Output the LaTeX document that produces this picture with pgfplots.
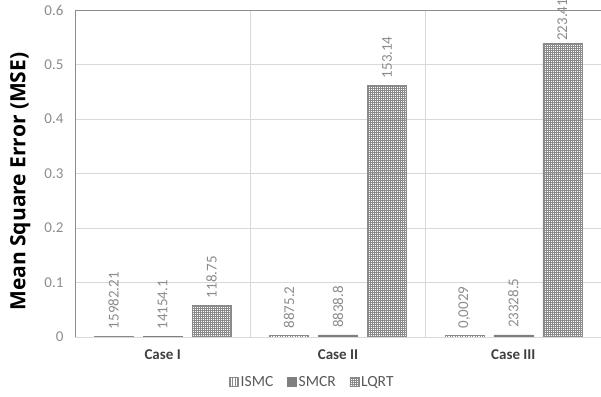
\documentclass[border=0pt]{standalone}
\usepackage{fontspec}
\setmainfont{Carlito}
\newfontfamily\opensans{Open Sans}
\usepackage{pgfplots}
\pgfplotsset{compat=1.18}
\usetikzlibrary{patterns.meta}
\definecolor{tickgray}{HTML}{8C8C8C}
\definecolor{gridgray}{HTML}{D9D9D9}
\definecolor{axgray}{HTML}{8C8C8C}
\definecolor{bargray}{HTML}{7F7F7F}
\definecolor{patgray}{HTML}{8A8A8A}
\definecolor{catgray}{HTML}{404040}
\definecolor{leggray}{HTML}{595959}
\begin{document}
\begin{tikzpicture}
\begin{axis}[
  at={(75pt,59pt)}, anchor=south west,
  scale only axis, width=526pt, height=327pt,
  ybar=10pt, bar width=39pt,
  xmin=-0.5, xmax=2.5, ymin=0, ymax=0.6,
  xtick={0,1,2}, xticklabels={Case I, Case II, Case III},
  ytick={0,0.1,0.2,0.3,0.4,0.5,0.6},
  yticklabels={0,0.1,0.2,0.3,0.4,0.5,0.6},
  major tick length=0pt,
  ymajorgrids, grid style={gridgray, line width=0.8pt},
  extra x ticks={0.5,1.5}, extra x tick labels={},
  extra x tick style={grid=major, major tick length=0pt},
  axis line style={draw=none},
  clip=false,
  yticklabel style={font=\fontsize{15}{18}\selectfont, text=tickgray, xshift=-8pt},
  xticklabel style={font=\fontsize{15}{18}\selectfont\bfseries, text=catgray, yshift=-9pt},
  ylabel={\opensans\bfseries Mean Square Error (MSE)},
  every axis y label/.style={at={(axis description cs:-0.104,0.475)}, rotate=90, anchor=center, font=\fontsize{21}{24}\selectfont},
  point meta=explicit symbolic,
  nodes near coords,
  every node near coord/.append style={rotate=90, anchor=west, font=\fontsize{15}{18}\selectfont, text=tickgray, inner sep=0pt, outer sep=7pt},
  legend style={at={(0.44,-0.138)}, anchor=center, legend columns=-1, draw=none, font=\fontsize{15.5}{18}\selectfont, text=leggray},
  legend image code/.code={\path (-12pt,0pt) (8pt,0pt); \draw[#1] (0pt,-4.5pt) rectangle (9pt,4.5pt);},
]
\addplot[draw=patgray, line width=0.4pt, pattern={Lines[angle=90,distance=2.5pt,line width=0.5pt]}, pattern color=patgray]
  coordinates {(0,0.0015) [15982.21] (1,0.003) [8875.2] (2,0.003) [{0,0029}]};
\addplot[draw=bargray, fill=bargray]
  coordinates {(0,0.001) [14154.1] (1,0.004) [8838.8] (2,0.004) [23328.5]};
\addplot[draw=patgray, line width=0.4pt, pattern={Hatch[angle=0,distance=2pt,line width=0.4pt]}, pattern color=patgray]
  coordinates {(0,0.0587) [118.75] (1,0.462) [153.14] (2,0.539) [{\hspace{-4.5pt}223.41}]};
\legend{ISMC, SMCR, LQRT}
\draw[gridgray, line width=0.8pt] (rel axis cs:0,0) -- (rel axis cs:1,0);
\draw[axgray, line width=0.8pt] (rel axis cs:0,0) -- (rel axis cs:0,1) -- (rel axis cs:1,1);
\end{axis}
\pgfresetboundingbox
\path[use as bounding box] (0,0) rectangle (601pt,396pt);
\end{tikzpicture}
\end{document}
